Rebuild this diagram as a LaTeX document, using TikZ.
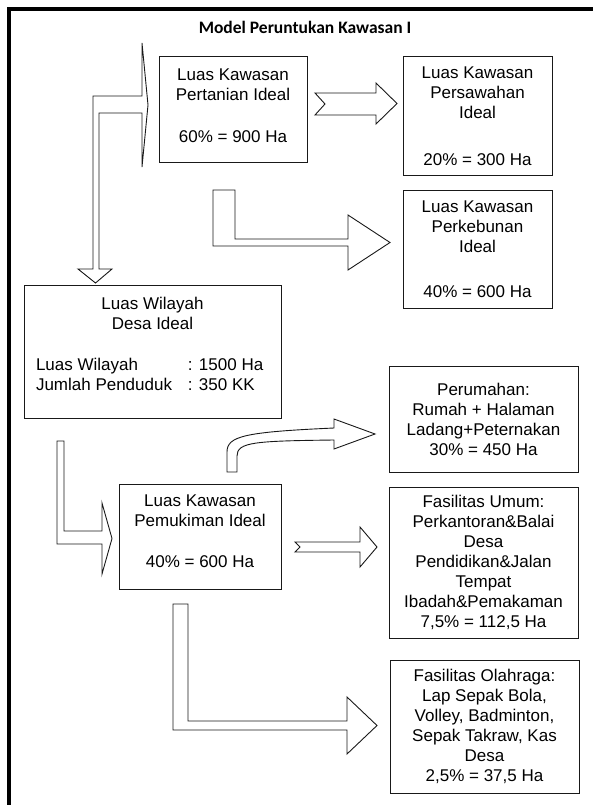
\documentclass[tikz,border=0pt]{standalone}
\usepackage{fontspec}
\setmainfont{Liberation Sans}
\newfontfamily\titlefont{Carlito}
\begin{document}
\begin{tikzpicture}[x=1pt,y=-1pt,
  box/.style={draw=black!90, line width=1pt, inner sep=0pt, align=center,
    font=\fontsize{17}{20}\selectfont},
  blk/.style={draw=black!90, line width=0.9pt, fill=white, line join=miter},
  frame/.style={line width=3.5pt, line join=miter}]
\useasboundingbox (0,0) rectangle (592,805);
% outer frame
\draw[frame] (9,806) -- (9,9) -- (593,9);
% title
\node[font=\titlefont\bfseries\fontsize{17.5}{20}\selectfont, anchor=base, inner sep=0pt] (title) at (305,34) {Model Peruntukan Kawasan I};
% boxes
\node[box, minimum width=148pt, minimum height=106pt, text depth=9.2pt] (per) at (233,110)
  {Luas Kawasan\\Pertanian Ideal\\[22pt]60\% = 900 Ha};
\node[box, minimum width=149pt, minimum height=119pt] (saw) at (477.5,116.5)
  {Luas Kawasan\\Persawahan\\Ideal\\[27pt]20\% = 300 Ha};
\node[box, minimum width=149pt, minimum height=118pt] (keb) at (477.5,249)
  {Luas Kawasan\\Perkebunan\\Ideal\\[25pt]40\% = 600 Ha};
\node[box, minimum width=257pt, minimum height=133pt, text depth=16pt] (wil) at (152.5,351.5)
  {Luas Wilayah\\Desa Ideal\\[21pt]%
   \makebox[233pt][l]{\makebox[152pt][l]{Luas Wilayah}: 1500 Ha}\\
   \makebox[233pt][l]{\makebox[152pt][l]{Jumlah Penduduk}: 350 KK}};
\node[box, minimum width=162pt, minimum height=105pt, text depth=10pt] (muk) at (200,536.5)
  {Luas Kawasan\\Pemukiman Ideal\\[21pt]40\% = 600 Ha};
\node[box, minimum width=189pt, minimum height=106pt] (rum) at (483.5,419)
  {Perumahan:\\Rumah + Halaman\\Ladang+Peternakan\\30\% = 450 Ha};
\node[box, minimum width=189pt, minimum height=151pt] (fum) at (483.5,562.5)
  {Fasilitas Umum:\\Perkantoran\&Balai\\Desa\\Pendidikan\&Jalan\\Tempat\\Ibadah\&Pemakaman\\7,5\% = 112,5 Ha};
\node[box, minimum width=189pt, minimum height=133pt] (ola) at (484.5,726.5)
  {Fasilitas Olahraga:\\Lap Sepak Bola,\\Volley, Badminton,\\Sepak Takraw, Kas\\Desa\\2,5\% = 37,5 Ha};
% block arrows
% Pertanian <- -> Wilayah (double bent arrow)
\draw[blk] (95.5,283) -- (112,269) -- (99,269) -- (99,113) -- (142,113) -- (142,167)
  -- (148,105) -- (142,43) -- (142,96) -- (93,96) -- (93,269) -- (78,269) -- cycle;
% Pertanian -> Persawahan (notched)
\draw[blk] (315,93) -- (376,93) -- (376,83) -- (397,103.5) -- (376,124) -- (376,115)
  -- (315,115) -- (325,104) -- cycle;
% Pertanian -> Perkebunan (bent)
\draw[blk] (213,190) -- (235,190) -- (235,239) -- (348,239) -- (348,215) -- (390,242.5)
  -- (348,270) -- (348,246) -- (213,246) -- cycle;
% Wilayah -> Pemukiman (bent)
\draw[blk] (57,441) -- (64,441) -- (64,531) -- (102,531) -- (102,503) -- (112,538.5)
  -- (102,574) -- (102,544) -- (57,544) -- cycle;
% Pemukiman -> Perumahan (curved)
\draw[blk] (227,472) -- (227,452) .. controls (227,436) and (245,432) .. (334,428)
  -- (334,419) -- (375,434) -- (334,449) -- (334,440)
  .. controls (255,441) and (237,442) .. (237,456) -- (237,472) -- cycle;
% Pemukiman -> Fasilitas Umum (notched)
\draw[blk] (295,542) -- (360,542) -- (360,527) -- (377,547) -- (360,567) -- (360,552)
  -- (295,552) -- (300,547) -- cycle;
% Pemukiman -> Olahraga (bent)
\draw[blk] (173,604) -- (188,604) -- (188,721) -- (347,721) -- (347,697) -- (377,725.5)
  -- (347,754) -- (347,730) -- (173,730) -- cycle;
\end{tikzpicture}
\end{document}
